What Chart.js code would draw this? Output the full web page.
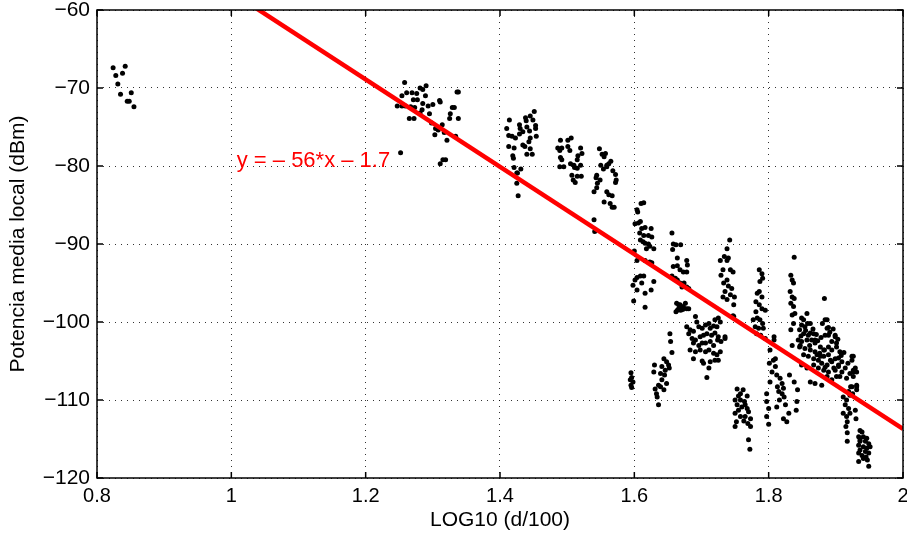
<!DOCTYPE html>
<html>
<head>
<meta charset="utf-8">
<script src="https://cdn.jsdelivr.net/npm/chart.js@4.4.1/dist/chart.umd.min.js"></script>
<style>
  html, body { margin: 0; padding: 0; background: #fff; }
</style>
</head>
<body>
<canvas id="grafico" width="907" height="535"></canvas>
<script>
// medidas [log10(d/100), potencia dBm], por tramos del recorrido
const tramoA = [[0.824,-67.4],[0.842,-67.2],[0.828,-68.4],[0.838,-68.1],[0.831,-69.5],[0.835,-70.8],[0.851,-70.6],[0.845,-71.7],[0.848,-71.7],[0.855,-72.4]];
const tramoB = [[1.258,-69.3],[1.254,-71.0],[1.261,-70.6],[1.269,-70.6],[1.276,-70.7],[1.281,-70.0],[1.285,-70.2],[1.290,-69.7],[1.271,-71.5],[1.277,-71.5],
  [1.289,-71.0],[1.285,-72.0],[1.293,-72.3],[1.300,-72.1],[1.310,-71.6],[1.311,-71.8],[1.336,-70.5],[1.338,-70.5],[1.247,-72.3],[1.254,-72.3],
  [1.259,-72.3],[1.267,-72.4],[1.273,-72.5],[1.281,-73.2],[1.284,-72.8],[1.295,-73.3],[1.265,-73.9],[1.272,-73.9],[1.298,-74.5],[1.304,-75.2],
  [1.308,-75.4],[1.314,-74.7],[1.317,-75.7],[1.326,-73.3],[1.329,-72.5],[1.332,-72.5],[1.325,-73.9],[1.338,-73.9],[1.334,-76.2],[1.303,-76.0],
  [1.321,-76.7],[1.252,-78.3],[1.311,-79.7],[1.315,-79.2],[1.319,-79.2]];
const tramoC = [[1.414,-74.1],[1.410,-75.2],[1.413,-76.1],[1.418,-76.2],[1.423,-76.4],[1.429,-74.7],[1.430,-75.2],[1.429,-75.9],[1.434,-75.6],[1.438,-73.8],
  [1.439,-74.2],[1.440,-75.0],[1.445,-73.6],[1.449,-74.1],[1.451,-73.0],[1.453,-74.8],[1.453,-75.2],[1.444,-75.5],[1.445,-76.4],[1.454,-76.2],
  [1.434,-77.3],[1.437,-77.5],[1.443,-76.9],[1.445,-77.8],[1.440,-78.5],[1.448,-78.5],[1.413,-77.5],[1.421,-77.7],[1.419,-78.7],[1.420,-79.0],
  [1.421,-80.2],[1.426,-80.9],[1.431,-80.4],[1.425,-82.2],[1.427,-83.8],[1.425,-80.9]];
const tramoD = [[1.490,-76.7],[1.492,-77.7],[1.489,-78.0],[1.501,-76.7],[1.506,-76.4],[1.501,-77.5],[1.504,-78.0],[1.490,-78.9],[1.492,-79.2],[1.489,-80.1],
  [1.495,-80.1],[1.505,-79.7],[1.510,-79.9],[1.515,-79.2],[1.520,-77.7],[1.522,-78.4],[1.516,-78.7],[1.520,-79.9],[1.511,-80.2],[1.515,-80.3],
  [1.507,-81.2],[1.515,-81.3],[1.521,-81.3],[1.509,-81.8],[1.512,-82.1],[1.486,-77.7]];
const tramoE = [[1.548,-77.8],[1.552,-78.5],[1.555,-78.8],[1.557,-78.4],[1.550,-79.9],[1.559,-79.9],[1.562,-79.7],[1.565,-79.4],[1.568,-80.6],[1.572,-81.1],
  [1.559,-80.1],[1.554,-80.4],[1.544,-81.2],[1.543,-81.5],[1.549,-81.8],[1.545,-82.2],[1.540,-83.3],[1.544,-82.8],[1.559,-83.3],[1.562,-83.7],
  [1.567,-83.8],[1.572,-82.1],[1.573,-81.8],[1.555,-84.6],[1.564,-84.8],[1.567,-85.3],[1.570,-85.3],[1.540,-86.9],[1.541,-88.4]];
const tramoF = [[1.610,-84.8],[1.614,-84.7],[1.604,-85.6],[1.605,-85.9],[1.601,-87.4],[1.606,-87.3],[1.609,-87.1],[1.611,-88.0],[1.616,-87.9],[1.625,-88.0],
  [1.608,-88.6],[1.614,-88.9],[1.621,-88.9],[1.626,-89.1],[1.609,-89.5],[1.613,-89.7],[1.616,-89.9],[1.621,-90.0],[1.623,-90.3],[1.629,-90.6],
  [1.618,-90.6],[1.600,-90.9],[1.604,-92.1],[1.616,-92.1],[1.623,-92.3],[1.626,-92.4],[1.604,-94.3],[1.609,-94.1],[1.614,-94.1],[1.601,-94.6],
  [1.598,-95.3],[1.611,-95.0],[1.616,-96.3],[1.625,-95.9],[1.629,-94.8],[1.604,-95.9],[1.599,-97.3],[1.616,-98.1]];
const tramoG = [[1.656,-88.6],[1.658,-90.0],[1.662,-90.1],[1.669,-90.1],[1.657,-90.7],[1.664,-91.8],[1.678,-92.1],[1.679,-92.7],[1.658,-92.9],[1.664,-92.8],
  [1.668,-93.3],[1.673,-93.6],[1.678,-93.6],[1.656,-94.1],[1.661,-94.4],[1.664,-94.6],[1.668,-95.0],[1.674,-95.0],[1.678,-95.5],[1.671,-95.5],
  [1.681,-95.7],[1.666,-97.8],[1.669,-98.0],[1.676,-97.6],[1.664,-98.5],[1.672,-98.4],[1.681,-98.3]];
const tramoH = [[1.742,-89.5],[1.738,-90.6],[1.734,-91.6],[1.740,-91.8],[1.728,-92.1],[1.738,-92.1],[1.732,-93.3],[1.743,-93.3],[1.747,-93.6],[1.729,-94.0],
  [1.738,-94.6],[1.733,-95.0],[1.740,-95.4],[1.745,-95.7],[1.735,-96.1],[1.743,-96.5],[1.732,-96.8],[1.738,-97.1],[1.749,-96.8],[1.748,-97.8],
  [1.747,-99.2],[1.748,-99.3],[1.735,-101.9],[1.729,-102.5]];
const tramoI = [[1.691,-99.3],[1.693,-100.0],[1.683,-101.0],[1.688,-101.2],[1.696,-100.6],[1.701,-100.8],[1.706,-100.4],[1.711,-100.2],[1.713,-100.8],[1.718,-100.5],
  [1.723,-100.6],[1.725,-99.5],[1.728,-100.0],[1.720,-99.7],[1.686,-102.1],[1.691,-102.3],[1.698,-101.9],[1.703,-101.7],[1.708,-101.5],[1.715,-101.7],
  [1.720,-101.4],[1.725,-101.9],[1.688,-102.7],[1.696,-103.0],[1.701,-102.7],[1.706,-102.7],[1.713,-102.5],[1.718,-103.0],[1.724,-102.3],[1.735,-102.1],
  [1.683,-103.6],[1.691,-103.8],[1.698,-103.6],[1.706,-103.8],[1.711,-103.6],[1.718,-104.0],[1.723,-104.2],[1.728,-103.8],[1.688,-104.7],[1.701,-105.0],
  [1.703,-105.3],[1.713,-105.1],[1.720,-104.9],[1.725,-104.9],[1.711,-105.9],[1.708,-107.1],[1.678,-100.6],[1.681,-101.5],[1.663,-97.6],[1.668,-97.8],
  [1.673,-98.0],[1.662,-98.7],[1.669,-98.5],[1.678,-98.3],[1.666,-98.3]];
const tramoJ = [[1.653,-101.5],[1.654,-102.5],[1.656,-103.9],[1.644,-104.7],[1.648,-105.1],[1.651,-105.5],[1.641,-105.7],[1.646,-106.2],[1.652,-105.9],[1.630,-105.5],
  [1.629,-106.4],[1.639,-106.6],[1.645,-106.8],[1.641,-107.4],[1.648,-107.9],[1.636,-108.1],[1.631,-108.6],[1.644,-108.7],[1.634,-109.6],[1.636,-110.6],
  [1.639,-108.3],[1.633,-109.2]];
const tramoK = [[1.595,-106.5],[1.596,-107.1],[1.594,-107.4],[1.598,-107.7],[1.595,-108.1],[1.596,-108.4]];
const tramoL = [[1.753,-108.6],[1.762,-108.7],[1.755,-109.5],[1.768,-109.5],[1.750,-110.0],[1.758,-110.0],[1.764,-110.2],[1.753,-110.6],[1.760,-110.9],[1.768,-111.1],
  [1.755,-111.3],[1.770,-111.5],[1.750,-111.7],[1.758,-112.1],[1.765,-112.1],[1.773,-112.4],[1.752,-112.8],[1.763,-112.7],[1.750,-113.4],[1.769,-113.0],
  [1.773,-113.4],[1.770,-115.1],[1.772,-116.3],[1.758,-109.2],[1.765,-110.6]];
const tramoM = [[1.786,-93.3],[1.790,-93.8],[1.791,-94.4],[1.787,-94.8],[1.783,-96.3],[1.786,-96.1],[1.790,-96.8],[1.781,-97.4],[1.786,-97.8],[1.790,-98.3],
  [1.795,-98.5],[1.781,-98.7],[1.783,-99.5],[1.777,-99.7],[1.787,-99.7],[1.791,-100.2],[1.780,-100.6],[1.785,-100.8],[1.792,-100.8],[1.782,-101.5],
  [1.788,-101.7],[1.795,-102.1]];
const tramoN = [[1.802,-103.6],[1.807,-104.9],[1.801,-105.3],[1.810,-105.7],[1.805,-106.4],[1.812,-106.8],[1.817,-107.2],[1.802,-107.7],[1.820,-107.9],[1.813,-108.3],
  [1.822,-108.5],[1.815,-108.9],[1.820,-109.2],[1.823,-109.6],[1.816,-110.0],[1.812,-110.9],[1.825,-110.6],[1.797,-109.2],[1.797,-110.2],[1.800,-111.1],
  [1.797,-112.1],[1.800,-113.1],[1.822,-112.4],[1.827,-112.8],[1.830,-111.7],[1.831,-106.8],[1.838,-107.7],[1.843,-108.7],[1.842,-110.2],[1.841,-111.3],
  [1.808,-101.9],[1.808,-102.3],[1.810,-104.7]];
const tramoO = [[1.838,-91.7],[1.833,-94.0],[1.835,-94.6],[1.837,-95.0],[1.832,-96.1],[1.835,-96.8],[1.838,-97.0],[1.833,-97.6],[1.837,-98.0],[1.835,-99.1],
  [1.839,-98.9],[1.837,-100.2],[1.833,-101.0],[1.835,-103.0]];
const tramoP = [[1.852,-99.7],[1.857,-98.9],[1.849,-100.4],[1.854,-100.6],[1.862,-100.2],[1.846,-101.0],[1.852,-101.5],[1.859,-101.7],[1.867,-101.5],[1.844,-102.3],
  [1.849,-102.5],[1.857,-102.3],[1.864,-102.3],[1.869,-102.7],[1.877,-103.2],[1.846,-103.2],[1.854,-103.4],[1.862,-103.6],[1.869,-103.8],[1.876,-104.0],
  [1.883,-103.6],[1.852,-104.2],[1.859,-104.4],[1.867,-104.7],[1.874,-104.9],[1.882,-104.4],[1.889,-104.2],[1.894,-103.6],[1.887,-99.7],[1.889,-100.7],
  [1.884,-101.7],[1.899,-101.9],[1.894,-102.5],[1.901,-103.2],[1.889,-103.2],[1.879,-105.3],[1.887,-105.5],[1.894,-105.1],[1.899,-104.7],[1.906,-103.8],
  [1.882,-106.2],[1.889,-106.4],[1.897,-105.9],[1.904,-105.5],[1.909,-105.1],[1.867,-105.5],[1.874,-105.9],[1.887,-107.0],[1.894,-107.4],[1.901,-107.0],
  [1.909,-106.4],[1.914,-105.9],[1.916,-107.2],[1.921,-106.6],[1.926,-106.2],[1.924,-104.9],[1.926,-104.4],[1.879,-108.1],[1.862,-107.7],[1.869,-107.9],
  [1.849,-105.5],[1.857,-105.9],[1.847,-103.0],[1.883,-97.0],[1.848,-101.8],[1.855,-101.1],[1.861,-103.0],[1.866,-100.9],[1.871,-101.6],[1.873,-102.4],
  [1.878,-102.0],[1.880,-100.2],[1.891,-101.3],[1.896,-100.9],[1.903,-102.2],[1.908,-104.3],[1.912,-103.9],[1.918,-105.3],[1.904,-104.6],[1.884,-105.8],
  [1.872,-104.2],[1.849,-99.5],[1.858,-100.2],[1.862,-101.4],[1.869,-102.3],[1.882,-103.6],[1.887,-100.8],[1.889,-101.7],[1.899,-101.7],[1.901,-102.7],
  [1.877,-104.4],[1.892,-104.9],[1.899,-106.2],[1.904,-105.7],[1.906,-107.0],[1.924,-104.4],[1.926,-106.4],[1.922,-108.3],[1.931,-108.1],[1.884,-99.7]];
const tramoQ = [[1.929,-105.9],[1.931,-106.4],[1.926,-107.0],[1.924,-108.3],[1.931,-108.3],[1.911,-109.6],[1.916,-110.0],[1.921,-109.4],[1.914,-110.6],[1.919,-111.1],
  [1.911,-111.7],[1.916,-112.1],[1.921,-111.7],[1.917,-112.8],[1.915,-113.4],[1.917,-114.2],[1.917,-115.3],[1.929,-111.3],[1.930,-112.4],[1.931,-108.7],
  [1.925,-109.2],[1.919,-108.9]];
const tramoR = [[1.936,-113.9],[1.939,-114.1],[1.934,-114.7],[1.941,-114.7],[1.946,-114.9],[1.936,-115.3],[1.944,-115.3],[1.949,-115.6],[1.934,-115.8],[1.941,-116.0],
  [1.946,-116.2],[1.936,-116.4],[1.944,-116.6],[1.949,-116.8],[1.939,-117.1],[1.945,-117.3],[1.934,-116.8],[1.941,-117.5],[1.947,-117.7],[1.934,-117.9],
  [1.949,-118.5],[1.936,-115.1],[1.951,-116.0]];

// recta de ajuste y = pendiente*x + ordenada
const pendiente = -56;
const ordenada = -1.7;
const xAjuste = [0.8, 2.0];

const xTicks = [0.8, 1.0, 1.2, 1.4, 1.6, 1.8, 2.0];
const xLabels = ['0.8', '1', '1.2', '1.4', '1.6', '1.8', '2'];
const yTicks = [-120, -110, -100, -90, -80, -70, -60];
const yLabels = ['\u2212120', '\u2212110', '\u2212100', '\u221290', '\u221280', '\u221270', '\u221260'];

const fuente = '"Liberation Sans", Arial, Helvetica, sans-serif';

const medidas = [].concat(tramoA, tramoB, tramoC, tramoD, tramoE, tramoF, tramoG, tramoH, tramoI,
  tramoJ, tramoK, tramoL, tramoM, tramoN, tramoO, tramoP, tramoQ, tramoR)
  .map(([x, y]) => ({ x, y }));
const recta = xAjuste.map(x => ({ x, y: pendiente * x + ordenada }));

// ecuacion de la recta, marco de ejes y marcas hacia dentro
const marco = {
  id: 'marco',
  afterDatasetsDraw(chart) {
    const { ctx, scales: { x, y } } = chart;
    ctx.save();
    ctx.fillStyle = '#ff0000';
    ctx.font = '22px ' + fuente;
    ctx.textAlign = 'left';
    ctx.textBaseline = 'middle';
    const txt = 'y = \u2013 ' + Math.abs(pendiente) + '*x \u2013 ' + Math.abs(ordenada);
    ctx.fillText(txt, x.getPixelForValue(1.008), y.getPixelForValue(-79.3));
    ctx.restore();
  },
  afterDraw(chart) {
    const { ctx, chartArea: a, scales: { x, y } } = chart;
    ctx.save();
    ctx.strokeStyle = '#000';
    ctx.lineWidth = 1.5;
    ctx.strokeRect(a.left, a.top, a.right - a.left, a.bottom - a.top);
    ctx.beginPath();
    xTicks.forEach(v => {
      const px = x.getPixelForValue(v);
      ctx.moveTo(px, a.bottom); ctx.lineTo(px, a.bottom - 6);
      ctx.moveTo(px, a.top); ctx.lineTo(px, a.top + 6);
    });
    yTicks.forEach(v => {
      const py = y.getPixelForValue(v);
      ctx.moveTo(a.left, py); ctx.lineTo(a.left + 6, py);
      ctx.moveTo(a.right, py); ctx.lineTo(a.right - 6, py);
    });
    ctx.stroke();
    ctx.restore();
  }
};

const ctx = document.getElementById('grafico').getContext('2d');
new Chart(ctx, {
  type: 'scatter',
  data: {
    datasets: [
      {
        type: 'line',
        data: recta,
        borderColor: '#ff0000',
        borderWidth: 4.5,
        pointRadius: 0,
        fill: false,
        clip: 0
      },
      {
        data: medidas,
        backgroundColor: '#000',
        borderWidth: 0,
        pointRadius: 2.5
      }
    ]
  },
  options: {
    responsive: false,
    animation: false,
    layout: { padding: { left: 0, right: 4, top: 10, bottom: 0 } },
    plugins: { legend: { display: false }, tooltip: { enabled: false } },
    scales: {
      x: {
        type: 'linear',
        min: 0.8,
        max: 2.0,
        afterBuildTicks: s => { s.ticks = xTicks.map(v => ({ value: v })); },
        afterFit: s => { s.height = 57; s.paddingLeft = 0; s.paddingRight = 0; },
        ticks: {
          padding: 6,
          color: '#000',
          font: { family: fuente, size: 20 },
          maxRotation: 0,
          callback: v => xLabels[xTicks.indexOf(v)]
        },
        grid: { color: 'rgba(0,0,0,0.8)', lineWidth: 1, drawTicks: false },
        border: { display: false, dash: [1, 5] },
        title: {
          display: true,
          text: 'LOG10 (d/100)',
          color: '#000',
          font: { family: fuente, size: 21 },
          padding: { top: 0, bottom: 2 }
        }
      },
      y: {
        type: 'linear',
        min: -120,
        max: -60,
        afterBuildTicks: s => { s.ticks = yTicks.map(v => ({ value: v })); },
        afterFit: s => { s.width = 97; s.paddingTop = 0; s.paddingBottom = 0; },
        ticks: {
          padding: 7,
          color: '#000',
          font: { family: fuente, size: 21 },
          callback: v => yLabels[yTicks.indexOf(v)]
        },
        grid: { color: 'rgba(0,0,0,0.8)', lineWidth: 1, drawTicks: false },
        border: { display: false, dash: [1, 5] },
        title: {
          display: true,
          text: 'Potencia media local (dBm)',
          color: '#000',
          font: { family: fuente, size: 21 },
          padding: { top: 6, bottom: 0 }
        }
      }
    }
  },
  plugins: [marco]
});
</script>
</body>
</html>
